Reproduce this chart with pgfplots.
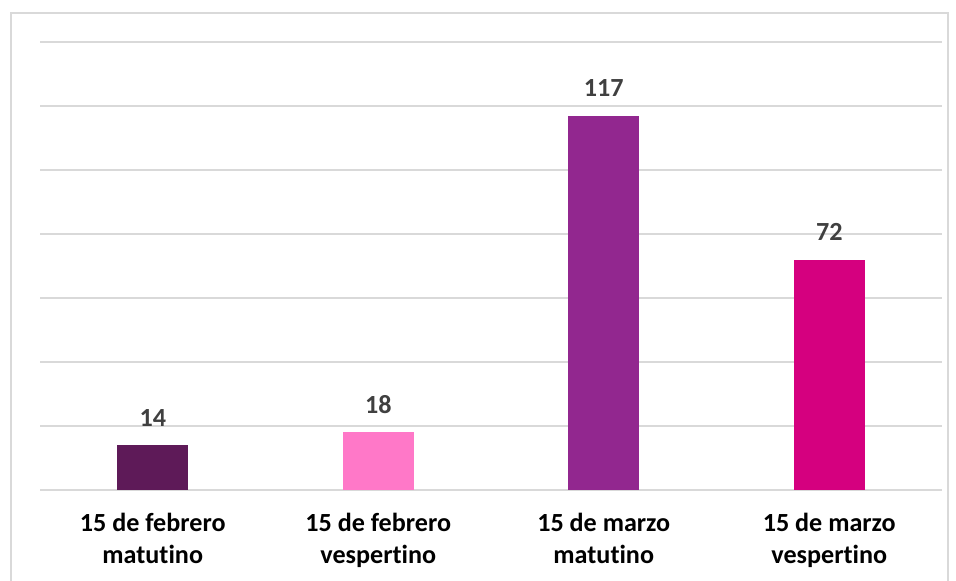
\documentclass[border=0pt]{standalone}
\usepackage{pgfplots}
\pgfplotsset{compat=1.18}
\usepackage{fontspec}
\setmainfont{Carlito}[Ligatures={NoCommon}]
\definecolor{c1}{HTML}{5E1A58}
\definecolor{c2}{HTML}{FF78C8}
\definecolor{c3}{HTML}{92278F}
\definecolor{c4}{HTML}{D5007F}
\definecolor{gridc}{HTML}{D9D9D9}
\definecolor{lab}{HTML}{404040}
\begin{document}
\begin{tikzpicture}[x=0.75pt,y=0.75pt]
\useasboundingbox (-40,-91) rectangle (916,490);
\begin{axis}[
  at={(0,0)}, anchor=south west,
  scale only axis,
  width=676.5pt, height=336pt,
  xmin=-0.5, xmax=3.5, ymin=0, ymax=140,
  ytick={0,20,...,140}, yticklabels={},
  xtick={0,1,2,3},
  xticklabels={{15 de febrero\\matutino},{15 de febrero\\vespertino},{15 de marzo\\matutino},{15 de marzo\\vespertino}},
  xticklabel style={align=center, font=\fontsize{19.6}{24}\selectfont\bfseries, inner sep=0pt, anchor=north, yshift=-17pt, text=black},
  major tick length=0pt,
  ymajorgrids, grid style={draw=gridc, line width=0.9pt},
  axis line style={draw=none},
  ybar, bar width=0.316, bar shift=0pt,
  /pgf/number format/assume math mode=true,
  nodes near coords,
  every node near coord/.append style={font=\fontsize{19.6}{24}\selectfont\bfseries, text=lab, inner sep=0pt, anchor=south, yshift=14pt},
  clip=false,
]
\addplot[fill=c1, draw=none] coordinates {(0,14)};
\addplot[fill=c2, draw=none] coordinates {(1,18)};
\addplot[fill=c3, draw=none] coordinates {(2,117)};
\addplot[fill=c4, draw=none] coordinates {(3,72)};
\end{axis}
\draw[gridc, line width=1.5pt] (-29,-150) -- (-29,477) -- (908,477) -- (908,-150);
\end{tikzpicture}
\end{document}
